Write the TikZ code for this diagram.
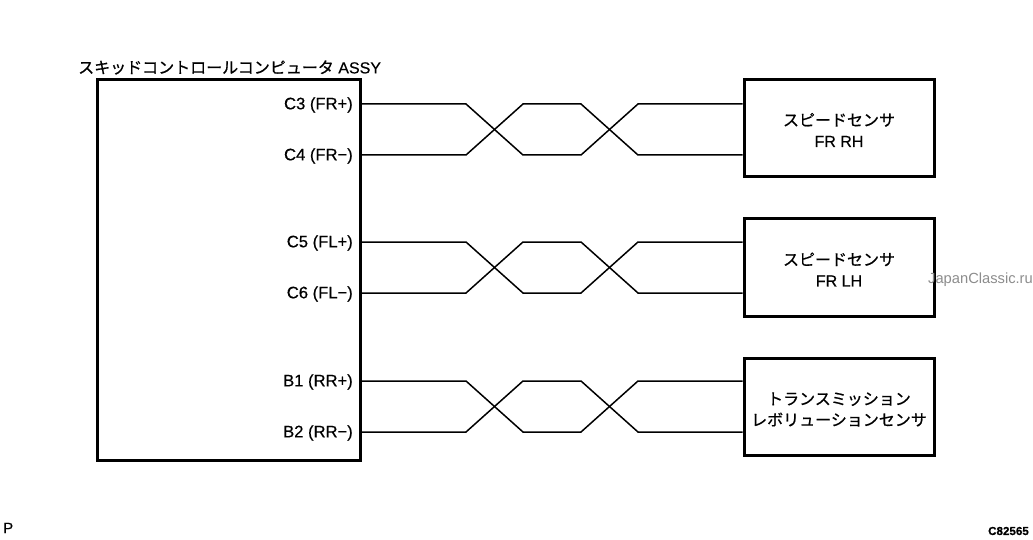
\documentclass[tikz,border=0pt]{standalone}
\usepackage{fontspec}
\setmainfont{Liberation Sans}[FakeBold=0.45]
\newfontfamily\cjk{Noto Sans CJK JP}[FakeBold=0.7]
\newfontfamily\plainfont{Liberation Sans}
\tikzset{
  x=1pt,y=-1pt,
  boxline/.style={draw=black,line width=3pt,fill=white,inner sep=0pt,minimum width=190pt,minimum height=97pt},
  pin/.style={anchor=east,inner sep=0pt,text height=14pt,text depth=3.4pt,font=\fontsize{16.6}{18}\selectfont},
  boxtext/.style={align=center,inner sep=0pt,font=\fontsize{16}{21}\selectfont},
  wire/.style={draw=black,line width=1.5pt,line join=miter},
}
\newcommand{\jp}[1]{{\cjk #1}}
\newcommand{\twist}[3]{%
  \draw[wire] (ecu.east |- #1) -- (466,0 |- #1) -- (523,0 |- #2) -- (581,0 |- #2) -- (638,0 |- #1) -- (#3.west |- #1);
  \draw[wire] (ecu.east |- #2) -- (466,0 |- #2) -- (523,0 |- #1) -- (581,0 |- #1) -- (638,0 |- #2) -- (#3.west |- #2);
}
\begin{document}
\begin{tikzpicture}
\useasboundingbox (0,0) rectangle (1033,540);
\node[boxline,minimum width=263pt,minimum height=380pt] (ecu) at (228.5,270) {};
\node[boxline,label={[boxtext,yshift=-1.5pt]center:{\jp{スピードセンサ}\\FR RH}}] (rh) at (839,128.5) {};
\node[boxline,label={[boxtext,yshift=-2pt]center:{\jp{スピードセンサ}\\FR LH}}] (lh) at (839,267.5) {};
\node[boxline,label={[boxtext,yshift=-3pt]center:{\jp{トランスミッション}\\\jp{レボリューションセンサ}}}] (tm) at (839,406.5) {};
\node[anchor=west,inner sep=0pt,font=\fontsize{16}{18}\selectfont] (title) at (78,67.5) {\jp{スキッドコントロールコンピュータ} ASSY};
\node[pin] (c3) at (353,104) {C3 (FR+)};
\node[pin] (c4) at (353,155) {C4 (FR−)};
\node[pin] (c5) at (353,242) {C5 (FL+)};
\node[pin] (c6) at (353,293) {C6 (FL−)};
\node[pin] (b1) at (353,381) {B1 (RR+)};
\node[pin] (b2) at (353,432) {B2 (RR−)};
\twist{c3}{c4}{rh}
\twist{c5}{c6}{lh}
\twist{b1}{b2}{tm}
\node[anchor=west,inner sep=0pt,font=\fontsize{15}{16}\selectfont] (p) at (3,528) {P};
\node[anchor=east,inner sep=0pt,font=\bfseries\fontsize{11.6}{13}\selectfont] (code) at (1029,531) {C82565};
\node[anchor=west,inner sep=0pt,text=black!45,font=\plainfont\fontsize{14.7}{16}\selectfont] (mark) at (928,280) {JapanClassic.ru};
\end{tikzpicture}
\end{document}
